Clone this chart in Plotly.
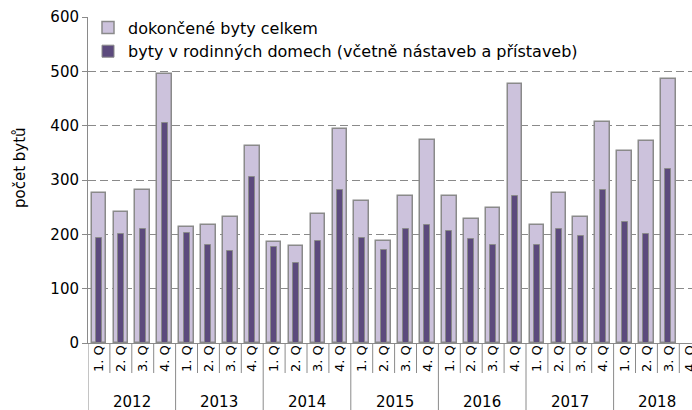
import plotly.graph_objects as go

years = ["2012", "2013", "2014", "2015", "2016", "2017", "2018"]
quarters = ["1. Q", "2. Q", "3. Q", "4. Q"]

total = [277, 241, 282, 496, 214, 217, 231, 362, 185, 178, 238, 393,
         262, 187, 270, 374, 270, 229, 248, 476, 217, 277, 231, 407,
         354, 372, 485, None]
family = [193, 200, 209, 405, 203, 181, 169, 306, 176, 147, 188, 282,
          193, 171, 209, 217, 207, 192, 180, 271, 180, 209, 197, 282,
          223, 200, 320, None]

name_total = "dokončené byty celkem"
name_family = "byty v rodinných domech (včetně nástaveb a přístaveb)"
y_title = "počet bytů"

cats = [f"{q} {y}" for y in years for q in quarters]
qlabels = [q for y in years for q in quarters]
n = len(cats)

FONT = "DejaVu Sans"
GRAY = "#8a8a8a"

fig = go.Figure()
fig.add_trace(go.Bar(x=cats, y=total, name=name_total, width=0.67,
                     marker=dict(color="#ccc2dc", line=dict(color=GRAY, width=1.5))))
fig.add_trace(go.Bar(x=cats, y=family, name=name_family, width=0.27,
                     marker=dict(color="#5c4a7d", line=dict(color=GRAY, width=1))))

H, W = 410, 692
mt, mb, ml, mr = 17, 67, 88, 0
ph = H - mt - mb
x_end = -0.5 + (W - ml - mr) / 21.9

shapes = []
for k in range(n + 1):
    xb = k - 0.5
    if xb > x_end:
        continue
    if k % 4 == 0:
        y1 = -mb / ph
    else:
        y1 = -30 / ph
    shapes.append(dict(type="line", xref="x", yref="paper", x0=xb, x1=xb,
                       y0=0, y1=y1, line=dict(color=GRAY, width=1)))

annotations = []
for j, yr in enumerate(years):
    annotations.append(dict(x=4 * j + 1.5, xref="x", y=-(402 - (H - mb)) / ph, yref="paper",
                            text=yr, showarrow=False, xanchor="center", yanchor="middle",
                            font=dict(family=FONT, size=15, color="#000")))
annotations.append(dict(x=-(ml - 20) / (W - ml - mr), xref="paper", y=(H - mb - 168) / ph, yref="paper",
                        text=y_title, textangle=-90, showarrow=False, xanchor="center",
                        yanchor="middle", font=dict(family=FONT, size=15, color="#000")))

fig.update_layout(
    width=W, height=H,
    margin=dict(l=ml, r=mr, t=mt, b=mb, autoexpand=False),
    barmode="overlay",
    plot_bgcolor="white", paper_bgcolor="white",
    font=dict(family=FONT, color="#000"),
    showlegend=True,
    legend=dict(x=0.0, y=1.02, xanchor="left", yanchor="top",
                bgcolor="rgba(0,0,0,0)", font=dict(family=FONT, size=16),
                traceorder="normal"),
    shapes=shapes,
    annotations=annotations,
    bargap=0,
)
fig.update_xaxes(type="category", range=[-0.5, x_end], tickvals=cats, ticktext=qlabels,
                 tickangle=-90, ticks="", showline=True, linecolor=GRAY, linewidth=1,
                 showgrid=False, automargin=False, ticklabelstandoff=-4,
                 tickfont=dict(family=FONT, size=13, color="#000"))
fig.update_yaxes(range=[0, 600], dtick=100, showline=True, linecolor=GRAY, linewidth=1,
                 ticks="outside", ticklen=5, tickcolor=GRAY, showgrid=True, gridcolor=GRAY,
                 griddash="8px,4px", gridwidth=1, zeroline=False, automargin=False,
                 tickfont=dict(family=FONT, size=15, color="#000"))

fig.write_html("out.html", config={"displayModeBar": False},
               post_script="document.body.style.margin='0';document.body.style.overflow='hidden';")
